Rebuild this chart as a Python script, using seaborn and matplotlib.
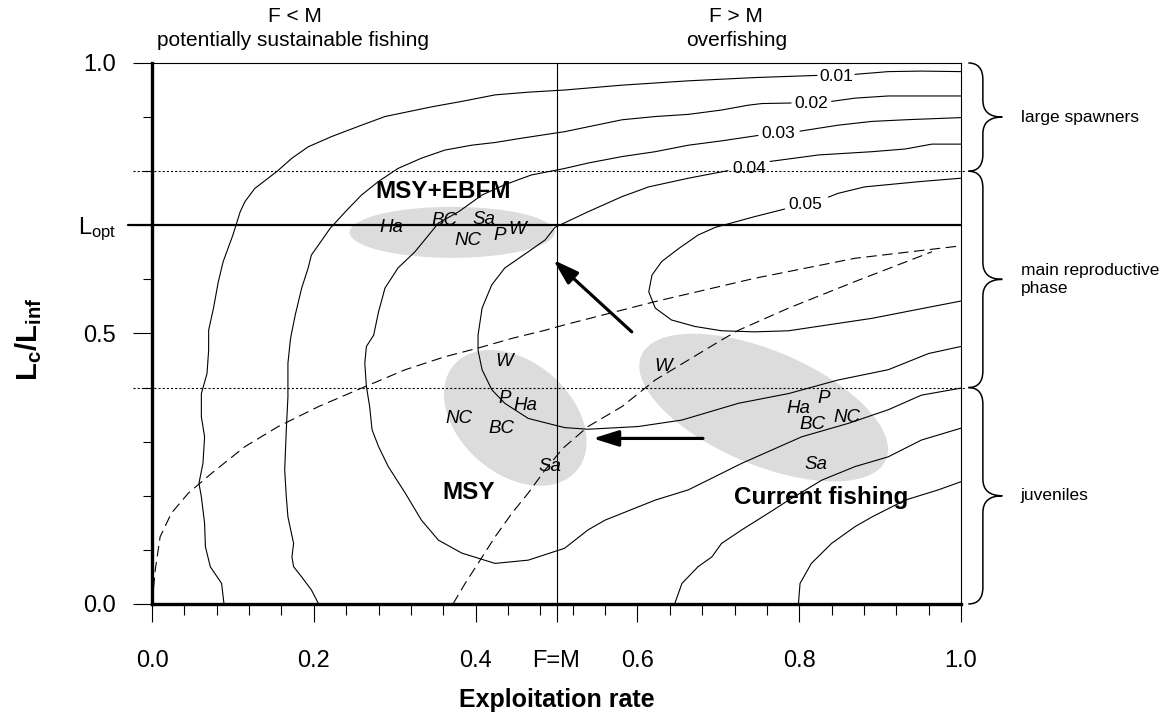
import numpy as np
import pandas as pd
import matplotlib
matplotlib.use("Agg")
import matplotlib.pyplot as plt
import matplotlib.transforms as mtransforms
from matplotlib.patches import Ellipse, PathPatch
from matplotlib.path import Path
import seaborn as sns

nan = np.nan

# --- yield-per-recruit isolines (nan = gap for the level label) ---
c01_x = [0.089, 0.086, 0.072, 0.066, 0.065, 0.061, 0.058, 0.063, 0.065, 0.061, 0.061, 0.068, 0.070, 0.070,
         0.076, 0.082, 0.088, 0.100, 0.109, 0.115, 0.127, 0.140, 0.154, 0.173, 0.193, 0.222, 0.259, 0.288,
         0.346, 0.383, 0.424, 0.465, 0.510, 0.581, 0.663, 0.745, 0.822, nan, 0.869, 0.910, 0.951, 1.0]
c01_y = [0.0, 0.038, 0.069, 0.106, 0.149, 0.198, 0.223, 0.260, 0.309, 0.346, 0.389, 0.426, 0.469, 0.506,
         0.547, 0.596, 0.633, 0.682, 0.725, 0.744, 0.768, 0.783, 0.799, 0.824, 0.845, 0.864, 0.885, 0.901,
         0.919, 0.929, 0.941, 0.946, 0.950, 0.959, 0.967, 0.973, 0.977, nan, 0.979, 0.984, 0.985, 0.984]
c01b_x = [0.799, 0.801, 0.815, 0.840, 0.869, 0.890, 0.931, 0.972, 1.0]
c01b_y = [0.0, 0.038, 0.075, 0.112, 0.143, 0.161, 0.192, 0.211, 0.226]

c02_x = [0.206, 0.197, 0.185, 0.175, 0.173, 0.175, 0.168, 0.166, 0.164, 0.166, 0.168, 0.168, 0.171, 0.172,
         0.177, 0.185, 0.193, 0.197, 0.206, 0.220, 0.239, 0.259, 0.280, 0.304, 0.333, 0.362, 0.395, 0.424,
         0.457, 0.510, 0.539, 0.581, 0.622, 0.663, 0.704, 0.737, 0.754, 0.790, nan, 0.840, 0.869, 0.910,
         0.951, 1.0]
c02_y = [0.0, 0.026, 0.050, 0.069, 0.087, 0.112, 0.161, 0.198, 0.248, 0.322, 0.383, 0.445, 0.488, 0.497,
         0.534, 0.584, 0.621, 0.645, 0.664, 0.694, 0.725, 0.756, 0.781, 0.805, 0.824, 0.839, 0.848, 0.853,
         0.861, 0.873, 0.882, 0.895, 0.901, 0.905, 0.913, 0.922, 0.925, 0.926, nan, 0.929, 0.935, 0.939,
         0.939, 0.939]
c02b_x = [0.646, 0.655, 0.675, 0.692, 0.704, 0.729, 0.762, 0.787, 0.828, 0.869, 0.910, 0.951, 1.0]
c02b_y = [0.0, 0.038, 0.069, 0.087, 0.112, 0.137, 0.168, 0.192, 0.229, 0.254, 0.272, 0.303, 0.325]

c03_x = [1.0, 0.931, 0.890, 0.848, 0.801, nan, 0.749, 0.704, 0.663, 0.622, 0.581, 0.539, 0.510, 0.469,
         0.436, 0.408, 0.379, 0.354, 0.342, 0.325, 0.304, 0.288, 0.280, 0.274, 0.265, 0.263, 0.265, 0.269,
         0.272, 0.280, 0.292, 0.313, 0.333, 0.354, 0.383, 0.424, 0.465, 0.510, 0.539, 0.560, 0.622, 0.663,
         0.729, 0.803, 0.861, 0.910, 0.951, 1.0]
c03_y = [0.899, 0.895, 0.892, 0.885, 0.874, nan, 0.866, 0.856, 0.848, 0.836, 0.827, 0.815, 0.805, 0.793,
         0.775, 0.756, 0.725, 0.704, 0.682, 0.651, 0.621, 0.584, 0.540, 0.497, 0.476, 0.445, 0.402, 0.365,
         0.322, 0.291, 0.254, 0.205, 0.155, 0.118, 0.094, 0.075, 0.081, 0.103, 0.137, 0.155, 0.192, 0.211,
         0.260, 0.309, 0.334, 0.359, 0.386, 0.399]

c04_x = [1.0, 0.964, 0.931, 0.890, 0.824, 0.764, nan, 0.712, 0.663, 0.614, 0.581, 0.539, 0.498, 0.486,
         0.465, 0.436, 0.420, 0.408, 0.403, 0.403, 0.408, 0.420, 0.436, 0.465, 0.510, 0.539, 0.601, 0.655,
         0.725, 0.787, 0.848, 0.910, 0.960, 1.0]
c04_y = [0.850, 0.850, 0.841, 0.836, 0.830, 0.818, nan, 0.801, 0.787, 0.771, 0.753, 0.725, 0.696, 0.673,
         0.651, 0.621, 0.590, 0.547, 0.497, 0.469, 0.433, 0.396, 0.371, 0.343, 0.326, 0.323, 0.328, 0.340,
         0.371, 0.389, 0.414, 0.433, 0.463, 0.476]

c05_x = [1.0, 0.951, 0.881, 0.848, 0.836, nan, 0.782, 0.745, 0.696, 0.675, 0.651, 0.630, 0.618, 0.614,
         0.622, 0.642, 0.671, 0.704, 0.745, 0.787, 0.836, 0.890, 0.931, 1.0]
c05_y = [0.787, 0.781, 0.771, 0.759, 0.752, nan, 0.730, 0.716, 0.696, 0.682, 0.657, 0.633, 0.608, 0.577,
         0.547, 0.525, 0.513, 0.505, 0.503, 0.505, 0.516, 0.528, 0.540, 0.560]

# dashed curves
dash1_x = [0.0, 0.004, 0.010, 0.024, 0.045, 0.074, 0.115, 0.156, 0.206, 0.259, 0.313, 0.362, 0.403, 0.445,
           0.486, 0.510, 0.622, 0.745, 0.869, 1.0]
dash1_y = [0.0, 0.063, 0.124, 0.168, 0.205, 0.242, 0.291, 0.328, 0.365, 0.399, 0.433, 0.457, 0.473, 0.491,
           0.506, 0.516, 0.559, 0.602, 0.639, 0.662]
dash2_x = [0.372, 0.387, 0.403, 0.424, 0.445, 0.465, 0.486, 0.508, 0.539, 0.581, 0.622, 0.663, 0.704, 0.725,
           0.787, 0.869, 0.964]
dash2_y = [0.0, 0.038, 0.075, 0.124, 0.168, 0.205, 0.248, 0.288, 0.328, 0.365, 0.414, 0.451, 0.488, 0.506,
           0.547, 0.596, 0.651]

# isoline labels
level_text = ["0.01", "0.02", "0.03", "0.04", "0.05"]
level_x = [0.846, 0.815, 0.774, 0.738, 0.807]
level_y = [0.975, 0.926, 0.870, 0.805, 0.738]

# reference levels
f_eq_m = 0.5
l_opt = 0.7
phase_bounds = [1.0, 0.8, 0.4, 0.0]
phase_names = ["large spawners", "main reproductive\nphase", "juveniles"]

# shaded groups: centre (data), size (inch), tilt (deg)
grp_names = ["MSY+EBFM", "MSY", "Current fishing"]
grp_cx = [0.371, 0.449, 0.756]
grp_cy = [0.687, 0.344, 0.363]
grp_w = [2.05, 1.62, 2.66]
grp_h = [0.51, 1.12, 1.14]
grp_ang = [0, -41, -23]
grp_label_x = [0.360, 0.391, 0.827]
grp_label_y = [0.762, 0.206, 0.196]

# stock codes
ebfm_codes = ["Ha", "BC", "Sa", "NC", "P", "W"]
ebfm_x = [0.296, 0.362, 0.410, 0.391, 0.430, 0.451]
ebfm_y = [0.695, 0.709, 0.710, 0.672, 0.682, 0.693]
msy_codes = ["W", "P", "Ha", "NC", "BC", "Sa"]
msy_x = [0.436, 0.436, 0.461, 0.379, 0.432, 0.492]
msy_y = [0.448, 0.380, 0.366, 0.343, 0.325, 0.254]
cur_codes = ["W", "Ha", "P", "BC", "NC", "Sa"]
cur_x = [0.632, 0.799, 0.830, 0.816, 0.859, 0.820]
cur_y = [0.439, 0.362, 0.380, 0.331, 0.345, 0.257]

# arrows (tail -> head)
arr_from_x = [0.593, 0.681]
arr_from_y = [0.503, 0.306]
arr_to_x = [0.496, 0.545]
arr_to_y = [0.636, 0.306]

# headings above the plot
head_text = ["F < M", "potentially sustainable fishing", "F > M", "overfishing"]
head_x = [0.177, 0.174, 0.722, 0.723]
head_y = [1.085, 1.042, 1.085, 1.042]


def long_form(name, xs, ys):
    df = pd.DataFrame({"x": xs, "y": ys})
    df["seg"] = name + "_" + df["x"].isna().cumsum().astype(str)
    return df.dropna()


solid = pd.concat([long_form("c01", c01_x, c01_y), long_form("c01b", c01b_x, c01b_y),
                   long_form("c02", c02_x, c02_y), long_form("c02b", c02b_x, c02b_y),
                   long_form("c03", c03_x, c03_y), long_form("c04", c04_x, c04_y),
                   long_form("c05", c05_x, c05_y)], ignore_index=True)
dashed = pd.concat([long_form("d1", dash1_x, dash1_y), long_form("d2", dash2_x, dash2_y)],
                   ignore_index=True)

sns.set_theme(style="white")
plt.rcParams["font.family"] = ["Liberation Sans", "DejaVu Sans"]
plt.rcParams["mathtext.fontset"] = "custom"
plt.rcParams["mathtext.rm"] = "Liberation Sans"
plt.rcParams["mathtext.it"] = "Liberation Sans:italic"
plt.rcParams["mathtext.bf"] = "Liberation Sans:bold"
plt.rcParams["lines.scale_dashes"] = False
plt.rcParams["text.color"] = "black"
plt.rcParams["axes.labelcolor"] = "black"

fig = plt.figure(figsize=(11.72, 7.18), dpi=100)
ax = fig.add_axes([0.1297, 0.1588, 0.6903, 0.7535])

# shaded ellipses, sized in inches around a data centre
for cx, cy, w, h, a in zip(grp_cx, grp_cy, grp_w, grp_h, grp_ang):
    tr = fig.dpi_scale_trans + mtransforms.ScaledTranslation(cx, cy, ax.transData)
    ax.add_patch(Ellipse((0, 0), w, h, angle=a, transform=tr,
                         facecolor="#dcdcdc", edgecolor="none", zorder=0.5))

sns.lineplot(data=solid, x="x", y="y", units="seg", estimator=None, sort=False,
             color="black", linewidth=0.8, ax=ax, legend=False)
sns.lineplot(data=dashed, x="x", y="y", units="seg", estimator=None, sort=False,
             color="black", linewidth=0.8, linestyle=(0, (7.5, 4)), ax=ax, legend=False)

for t, x, y in zip(level_text, level_x, level_y):
    ax.text(x, y, t, fontsize=12.5, ha="center", va="center", zorder=4)

# reference lines
ax.plot([f_eq_m, f_eq_m], [0, 1], color="black", lw=0.8, zorder=2)
ax.plot([-0.0297, 1.0], [l_opt, l_opt], color="black", lw=1.6, clip_on=False, zorder=3)
for b in phase_bounds[1:-1]:
    ax.plot([-0.0235, 1.005], [b, b], color="black", lw=0.8, linestyle=(0, (1.5, 1.5)),
            clip_on=False, zorder=2)

# group labels and codes
for name, x, y in zip(grp_names, grp_label_x, grp_label_y):
    ax.text(x, y, name, fontsize=17.5, fontweight="bold", ha="center", va="center", zorder=5)
for codes, xs, ys in [(ebfm_codes, ebfm_x, ebfm_y), (msy_codes, msy_x, msy_y), (cur_codes, cur_x, cur_y)]:
    for c, x, y in zip(codes, xs, ys):
        ax.text(x, y, c, fontsize=13.5, fontstyle="italic", ha="center", va="center", zorder=5)

for sx, sy, tx, ty in zip(arr_from_x, arr_from_y, arr_to_x, arr_to_y):
    ax.annotate("", xy=(tx, ty), xytext=(sx, sy),
                arrowprops=dict(arrowstyle="-|>,head_length=0.7,head_width=0.22", lw=2.3,
                                color="black", shrinkA=0, shrinkB=0, mutation_scale=22), zorder=6)


# curly braces on the right
def brace(ax, y_lo, y_hi, x0=1.009, x1=1.027, x2=1.051, r=0.031):
    ym = (y_lo + y_hi) / 2
    verts = [(x0, y_hi), (x1, y_hi), (x1, y_hi - r),
             (x1, ym + r), (x1, ym), (x2, ym),
             (x1, ym), (x1, ym - r),
             (x1, y_lo + r), (x1, y_lo), (x0, y_lo)]
    codes = [Path.MOVETO, Path.CURVE3, Path.CURVE3,
             Path.LINETO, Path.CURVE3, Path.CURVE3,
             Path.CURVE3, Path.CURVE3,
             Path.LINETO, Path.CURVE3, Path.CURVE3]
    ax.add_patch(PathPatch(Path(verts, codes), facecolor="none", edgecolor="black",
                           lw=1.1, clip_on=False))
    return ym


for i, name in enumerate(phase_names):
    ym = brace(ax, phase_bounds[i + 1], phase_bounds[i])
    ax.text(1.074, ym, name, fontsize=12.5, ha="left", va="center")

for t, x, y in zip(head_text, head_x, head_y):
    ax.text(x, y, t, fontsize=15, ha="center", va="center")

ax.set_xlim(0, 1)
ax.set_ylim(0, 1)

x_major = [0.0, 0.2, 0.4, 0.5, 0.6, 0.8, 1.0]
x_labels = ["0.0", "0.2", "0.4", "F=M", "0.6", "0.8", "1.0"]
y_major = [0.0, 0.5, 0.7, 1.0]
y_labels = ["0.0", "0.5", r"$\mathregular{L_{opt}}$", "1.0"]
ax.set_xticks(x_major)
ax.set_xticklabels(x_labels)
ax.set_xticks(np.round(np.arange(0, 1.0001, 0.04), 2), minor=True)
ax.set_yticks(y_major)
ax.set_yticklabels(y_labels)
ax.set_yticks(np.round(np.arange(0.1, 1.0, 0.1), 1), minor=True)

ax.tick_params(axis="x", which="major", direction="out", length=13, width=0.8, pad=20,
               labelsize=17, bottom=True, color="black", labelcolor="black")
ax.tick_params(axis="x", which="minor", direction="out", length=8, width=0.8, bottom=True, color="black")
ax.tick_params(axis="y", which="major", direction="out", length=13.7, width=0.8, pad=12,
               labelsize=17, left=True, color="black", labelcolor="black")
ax.tick_params(axis="y", which="minor", direction="out", length=6.5, width=0.8, left=True, color="black")

for s in ["top", "right"]:
    ax.spines[s].set_linewidth(0.8)
for s in ["left", "bottom"]:
    ax.spines[s].set_linewidth(2.4)
for s in ax.spines.values():
    s.set_color("black")
    s.set_visible(True)
    s.set_zorder(7)

ax.set_xlabel("Exploitation rate", fontsize=18, fontweight="bold", labelpad=12, color="black")
ax.set_ylabel(r"$\mathbf{L_c/L_{inf}}$", fontsize=21, color="black")
ax.yaxis.set_label_coords(-0.153, 0.49)
ax.yaxis.label.set_verticalalignment("center")

fig.savefig("out.png", dpi=100)
